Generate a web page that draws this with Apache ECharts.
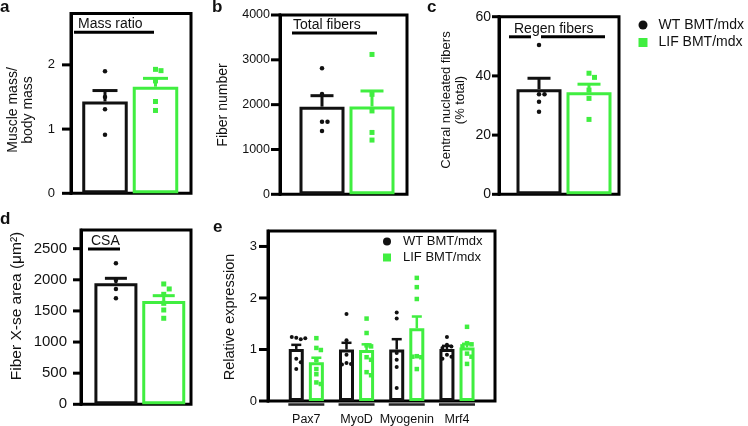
<!DOCTYPE html>
<html><head><meta charset="utf-8">
<script src="https://cdn.jsdelivr.net/npm/echarts@6.0.0/dist/echarts.min.js"></script>
<style>html,body{margin:0;padding:0;background:#fff}#c{width:748px;height:426px}</style>
</head><body><div id="c"></div>
<script>
// ---------------- DATA ----------------
const groups = ['WT BMT/mdx', 'LIF BMT/mdx'];

// a: Mass ratio
const massMean = [1.43, 1.66];
const massSem = [0.17, 0.13];
const massWT = [1.90, 1.50, 1.31, 0.91];
const massLIF = [1.93, 1.91, 1.75, 1.43, 1.29];
const massTicks = [0, 1, 2];

// b: Total fibers
const fiberMean = [1955, 1960];
const fiberSem = [245, 345];
const fiberWT = [2810, 2240, 1620, 1620, 1410];
const fiberLIF = [3120, 2230, 1860, 1380, 1210];
const fiberTicks = [0, 1000, 2000, 3000, 4000];

// c: Regen fibers
const regenMean = [35.5, 34.5];
const regenSem = [3.7, 2.7];
const regenWT = [50.4, 33.8, 33.8, 31.3, 27.9];
const regenLIF = [40.9, 39.5, 35.2, 32.4, 25.3];
const regenTicks = [0, 20, 40, 60];

// d: CSA
const csaMean = [1944, 1659];
const csaSem = [80, 86];
const csaWT = [2265, 1997, 1853, 1703];
const csaLIF = [1933, 1853, 1767, 1622, 1515, 1382];
const csaTicks = [0, 500, 1000, 1500, 2000, 2500];

// e: Relative expression
const genes = ['Pax7', 'MyoD', 'Myogenin', 'Mrf4'];
const exprMeanWT = [1.01, 1.00, 1.00, 1.01];
const exprSemWT = [0.08, 0.13, 0.20, 0.06];
const exprMeanLIF = [0.75, 0.99, 1.41, 1.04];
const exprSemLIF = [0.09, 0.11, 0.23, 0.07];
const exprWT = [
  [1.23, 1.20, 1.24, 1.22, 0.82, 0.75, 0.62],
  [1.69, 1.18, 0.90, 0.74, 0.72, 0.71],
  [1.72, 1.60, 0.93, 0.80, 0.66, 0.25],
  [1.24, 1.09, 1.06, 1.03, 0.90, 0.86, 0.82]
];
const exprLIF = [
  [1.22, 1.03, 0.99, 0.80, 0.62, 0.52, 0.36, 0.33],
  [1.60, 1.32, 1.08, 1.06, 0.85, 0.80, 0.56, 0.50],
  [2.39, 2.21, 1.98, 0.87, 0.85, 0.86, 0.62],
  [1.44, 1.12, 1.10, 1.06, 0.92, 0.86, 0.72]
];
const exprTicks = [0, 1, 2, 3];

// ---------------- STYLE / LAYOUT ----------------
const BLACK = '#111';
const GREEN = '#40EE40';
const FONT = 'Liberation Sans, Arial, Helvetica, sans-serif';
const COLORS = [BLACK, GREEN];
const SYMS = ['circle', 'rect'];

const panels = [
  {grid:{left:71, top:13.5, width:120, height:179.8}, yMax:2.8, xr:[-0.673,1.703], barW:45.5, cap:25, lw:3, fs:13, margin:16, tickLen:9, sym:[4.5,5], sep:5.5,
   mean:massMean, sem:massSem, pts:[massWT, massLIF], ticks:massTicks},
  {grid:{left:280, top:15, width:127, height:179.3}, yMax:4000, xr:[-0.84,1.70], barW:45, cap:23, lw:3, fs:12.5, margin:10, tickLen:9, sym:[4.5,5], sep:5.5,
   mean:fiberMean, sem:fiberSem, pts:[fiberWT, fiberLIF], ticks:fiberTicks},
  {grid:{left:499, top:16.7, width:120, height:177.6}, yMax:60, xr:[-0.8,1.6], barW:45, cap:23, lw:3, fs:14, margin:8, tickLen:7, sym:[4.5,5], sep:5.5,
   mean:regenMean, sem:regenSem, pts:[regenWT, regenLIF], ticks:regenTicks},
  {grid:{left:81, top:230, width:110, height:174.3}, yMax:2800, xr:[-0.73,1.57], barW:43, cap:22, lw:3, fs:15, margin:14, tickLen:8, sym:[4.5,5], sep:5.5,
   mean:csaMean, sem:csaSem, pts:[csaWT, csaLIF], ticks:csaTicks}
];
const pe = {grid:{left:268, top:231, width:227, height:170}, yMax:3.3, xr:[-0.763,3.757], barW:15, cap:10, lw:2.5, fs:13, margin:11, tickLen:9, sym:[4,4.5], sep:4.5, dodge:0.2, ticks:exprTicks};
const allPanels = panels.concat([pe]);

// deterministic beeswarm offsets (in x data units)
function swarm(vals, pxY, pxX, d) {
  const placed = [], offs = [];
  vals.forEach(v => {
    const py = v * pxY;
    let off = 0;
    for (let n = 0; n < 30; n++) {
      off = n === 0 ? 0 : (n % 2 ? 1 : -1) * Math.ceil(n / 2) * d;
      if (placed.every(p => Math.hypot(p[0] - off, p[1] - py) >= d)) break;
    }
    placed.push([off, py]);
    offs.push(off / pxX);
  });
  return offs;
}

const grids = [], xAxes = [], yAxes = [], series = [];

function addAxes(p, gi) {
  grids.push(Object.assign({show:true, borderColor:'#000', borderWidth:3, backgroundColor:'transparent', containLabel:false, outerBoundsMode:'none'}, p.grid));
  xAxes.push({gridIndex:gi, type:'value', min:p.xr[0], max:p.xr[1], show:false});
  yAxes.push({gridIndex:gi, type:'value', min:0, max:p.yMax,
    axisLine:{show:true, onZero:false, lineStyle:{color:'#000', width:3}},
    axisTick:{show:false},
    axisLabel:{show:true, customValues:p.ticks, fontSize:p.fs, margin:p.margin, color:'#111', fontFamily:FONT,
      formatter:v => String(v)},
    splitLine:{show:false}});
}

function errSeries(gi, data, p) {
  return {type:'custom', xAxisIndex:gi, yAxisIndex:gi, z:3, silent:true, clip:false,
    encode:{x:0, y:1}, data:data,
    renderItem(params, api) {
      const x = api.value(0), m = api.value(1), s = api.value(2);
      const col = COLORS[api.value(3)];
      const p0 = api.coord([x, m]), p1 = api.coord([x, m + s]);
      return {type:'group', children:[
        {type:'line', shape:{x1:p0[0], y1:p0[1], x2:p1[0], y2:p1[1]}, style:{stroke:col, lineWidth:p.lw}},
        {type:'line', shape:{x1:p1[0]-p.cap/2, y1:p1[1], x2:p1[0]+p.cap/2, y2:p1[1]}, style:{stroke:col, lineWidth:p.lw}}
      ]};
    }};
}

panels.forEach((p, gi) => {
  addAxes(p, gi);
  const pxY = p.grid.height / p.yMax, pxX = p.grid.width / (p.xr[1] - p.xr[0]);
  series.push({type:'bar', name:'bars'+gi, xAxisIndex:gi, yAxisIndex:gi, z:2, silent:true, barWidth:p.barW,
    itemStyle:{color:'#fff', borderWidth:3},
    data:p.mean.map((m, g) => ({value:[g, m], itemStyle:{borderColor:COLORS[g]}}))});
  series.push(errSeries(gi, p.mean.map((m, g) => [g, m, p.sem[g], g]), p));
  p.pts.forEach((vals, g) => {
    const offs = swarm(vals, pxY, pxX, p.sep);
    series.push({type:'scatter', name:groups[g], xAxisIndex:gi, yAxisIndex:gi, z:4, silent:true,
      symbol:SYMS[g], symbolSize:p.sym[g], itemStyle:{color:COLORS[g], opacity:1},
      data:vals.map((v, k) => [g + offs[k], v])});
  });
});

// panel e
(function () {
  const gi = 4, p = pe;
  addAxes(p, gi);
  const pxY = p.grid.height / p.yMax, pxX = p.grid.width / (p.xr[1] - p.xr[0]);
  const barData = [], errData = [];
  genes.forEach((gname, i) => {
    barData.push({value:[i - p.dodge, exprMeanWT[i]], itemStyle:{borderColor:BLACK}});
    barData.push({value:[i + p.dodge, exprMeanLIF[i]], itemStyle:{borderColor:GREEN}});
    errData.push([i - p.dodge, exprMeanWT[i], exprSemWT[i], 0]);
    errData.push([i + p.dodge, exprMeanLIF[i], exprSemLIF[i], 1]);
  });
  series.push({type:'bar', name:'barsE', xAxisIndex:gi, yAxisIndex:gi, z:2, silent:true, barWidth:p.barW,
    itemStyle:{color:'#fff', borderWidth:3}, data:barData});
  series.push(errSeries(gi, errData, p));
  [exprWT, exprLIF].forEach((setArr, g) => {
    const data = [];
    setArr.forEach((vals, i) => {
      const cx = i + (g === 0 ? -p.dodge : p.dodge);
      const offs = swarm(vals, pxY, pxX, p.sep);
      vals.forEach((v, k) => data.push([cx + offs[k], v]));
    });
    series.push({type:'scatter', name:groups[g], xAxisIndex:gi, yAxisIndex:gi, z:4, silent:true,
      symbol:SYMS[g], symbolSize:p.sym[g], itemStyle:{color:COLORS[g], opacity:1}, data:data});
  });
  // category labels with underline bars below the axis
  series.push({type:'custom', xAxisIndex:gi, yAxisIndex:gi, z:5, silent:true, clip:false,
    encode:{x:0, y:1}, data:genes.map((g, i) => [i, 0]),
    renderItem(params, api) {
      const c = api.coord([api.value(0), 0]);
      return {type:'group', children:[
        {type:'line', shape:{x1:c[0]-18, y1:c[1]+3.5, x2:c[0]+18, y2:c[1]+3.5}, style:{stroke:'#222', lineWidth:2.5}},
        {type:'text', style:{text:genes[params.dataIndex], x:c[0], y:c[1]+18.5, fontSize:12.5, fontFamily:FONT, fill:'#111',
          textAlign:'center', textVerticalAlign:'middle', align:'center', verticalAlign:'middle'}}
      ]};
    }});
})();

// ---------------- TEXT ANNOTATIONS ----------------
function txt(text, x, y, fs, o) {
  o = o || {};
  return {type:'text', x:x, y:y, rotation:o.rot || 0, z:10, silent:true,
    style:{text:text, fontSize:fs, fontFamily:FONT, fontWeight:o.bold ? 'bold' : 'normal', fill:'#111',
      lineHeight:o.lh || fs * 1.15,
      textAlign:o.align || 'left', align:o.align || 'left',
      textVerticalAlign:'middle', verticalAlign:'middle'}};
}
function hline(x1, x2, y, w) {
  return {type:'line', z:10, silent:true, shape:{x1:x1, y1:y, x2:x2, y2:y}, style:{stroke:'#000', lineWidth:w || 3}};
}
const R = Math.PI / 2;
const annotations = [
  txt('a', 0, 7.5, 17, {bold:true}),
  txt('b', 212, 7.8, 17, {bold:true}),
  txt('c', 427, 7.8, 17, {bold:true}),
  txt('d', 0, 219.5, 17, {bold:true}),
  txt('e', 213, 227, 17, {bold:true}),
  txt('Mass ratio', 78, 24.2, 14), hline(74, 154, 32.3),
  txt('Total fibers', 293, 25.5, 14), hline(292, 377, 33),
  txt('Regen fibers', 514, 29, 14), hline(509, 531, 36.8), hline(541, 605, 36.8),
  txt('CSA', 91, 241, 14), hline(88, 120, 249),
  txt('Muscle mass/\nbody mass', 20.5, 110, 14, {rot:R, align:'center', lh:15.5}),
  txt('Fiber number', 223, 105, 14, {rot:R, align:'center'}),
  txt('Central nucleated fibers\n(% total)', 453.5, 100, 13, {rot:R, align:'center', lh:13.5}),
  txt('Fiber X-se area (μm²)', 17, 306, 15.5, {rot:R, align:'center'}),
  txt('Relative expression', 230, 317, 14.5, {rot:R, align:'center'})
];

const option = {
  animation:false,
  backgroundColor:'#fff',
  textStyle:{fontFamily:FONT},
  grid:grids, xAxis:xAxes, yAxis:yAxes, series:series,
  legend:[
    {orient:'vertical', left:638.5, top:18, padding:0, itemWidth:9, itemHeight:9, itemGap:3.5, selectedMode:false,
     data:groups, textStyle:{fontSize:14, fontFamily:FONT, color:'#111', padding:[0,0,0,6]}},
    {orient:'vertical', left:383, top:235, padding:0, itemWidth:8, itemHeight:8, itemGap:3, selectedMode:false,
     data:groups, textStyle:{fontSize:13, fontFamily:FONT, color:'#111', padding:[0,0,0,7]}}
  ]
};
const chart = echarts.init(document.getElementById('c'), null, {renderer:'canvas'});
chart.setOption(option);

// outward y-axis tick marks, positioned through each grid's scales
const tickEls = [];
allPanels.forEach((p, gi) => {
  p.ticks.forEach(v => {
    const pt = chart.convertToPixel({gridIndex:gi}, [p.xr[0], v]);
    tickEls.push(hline(pt[0] - p.tickLen, pt[0] + 1, pt[1], 3));
  });
});
chart.setOption({graphic:annotations.concat(tickEls)});
</script></body></html>
